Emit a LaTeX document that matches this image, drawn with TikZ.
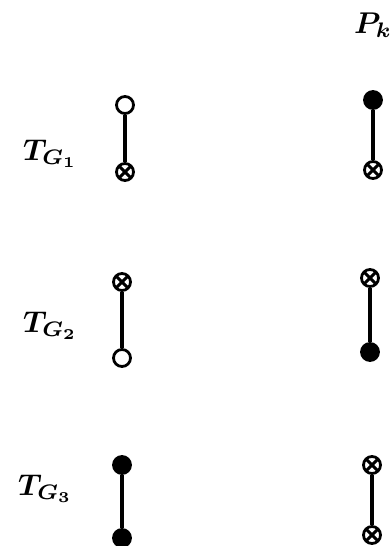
\documentclass[tikz,border=0pt]{standalone}
\usetikzlibrary{shapes.misc}
\begin{document}
\begin{tikzpicture}[x=1pt,y=-1pt,
  vtx/.style={circle,draw=black,line width=2.8pt,minimum size=17pt,inner sep=0pt},
  opencirc/.style={vtx,fill=white},
  fullcirc/.style={vtx,fill=black},
  crosscirc/.style={vtx,fill=white,path picture={
     \draw[line width=3pt] (path picture bounding box.north west) -- (path picture bounding box.south east);
     \draw[line width=3pt] (path picture bounding box.north east) -- (path picture bounding box.south west);}},
  stick/.style={line width=3.4pt},
  lbl/.style={anchor=base west,inner sep=0pt}]
\useasboundingbox (0,0) rectangle (390,546);
% labels
\node[lbl] (pk) at (354,33) {\scalebox{3}{\boldmath$P_k$}};
\node[lbl] (t1) at (23,160) {\scalebox{3}{\boldmath$T_{G_1}$}};
\node[lbl] (t2) at (23,332) {\scalebox{3}{\boldmath$T_{G_2}$}};
\node[lbl] (t3) at (18,495) {\scalebox{3}{\boldmath$T_{G_3}$}};
% row 1
\node[opencirc] (a1) at (125,105) {};
\node[crosscirc] (b1) at (125,172) {};
\node[fullcirc] (c1) at (373,100) {};
\node[crosscirc] (d1) at (373,170) {};
% row 2
\node[crosscirc] (a2) at (122,282) {};
\node[opencirc] (b2) at (122,358) {};
\node[crosscirc] (c2) at (370,278) {};
\node[fullcirc] (d2) at (370,352) {};
% row 3
\node[fullcirc] (a3) at (122,465) {};
\node[fullcirc] (b3) at (122,538) {};
\node[crosscirc] (c3) at (372,465) {};
\node[crosscirc] (d3) at (372,535) {};
% sticks
\draw[stick] (a1) -- (b1);
\draw[stick] (c1) -- (d1);
\draw[stick] (a2) -- (b2);
\draw[stick] (c2) -- (d2);
\draw[stick] (a3) -- (b3);
\draw[stick] (c3) -- (d3);
\end{tikzpicture}
\end{document}
